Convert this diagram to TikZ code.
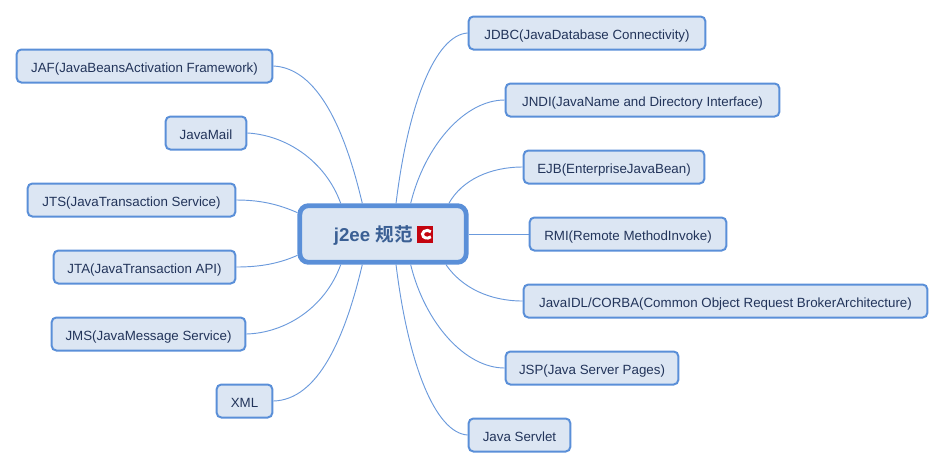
\documentclass[tikz,border=0pt]{standalone}
\usepackage{fontspec}
\setmainfont{Liberation Sans}
\newfontfamily\cjkbold[BoldFont=Noto Sans CJK SC Bold]{Noto Sans CJK SC}
\usetikzlibrary{backgrounds}
\definecolor{boxfill}{HTML}{DCE6F3}
\definecolor{boxline}{HTML}{5A8FD8}
\definecolor{leaftext}{HTML}{22345A}
\definecolor{roottext}{HTML}{3A5F94}
\definecolor{logored}{HTML}{C4040F}
\tikzset{
	leaf/.style={draw=boxline,fill=boxfill,rectangle,rounded corners=3.5pt,line width=1.5pt,minimum height=24.75pt,inner sep=0pt,text height=10pt,text depth=0.6pt,text=leaftext,font=\fontsize{10}{12}\selectfont},
	root/.style={draw=boxline,fill=boxfill,rectangle,rounded corners=6.5pt,line width=3.6pt,minimum width=124.75pt,minimum height=42.5pt,inner sep=0pt,text height=12pt,text depth=0.4pt,text=roottext,font=\fontsize{14}{16}\selectfont\bfseries},
	link/.style={draw=boxline!90,line width=0.7pt}
}
\begin{document}
\begin{tikzpicture}[x=0.75pt,y=-0.75pt]
	\useasboundingbox (0,0) rectangle (945,469);
	\node[root] (j2ee) at (383,234) {j2ee {\cjkbold 规范}\hspace*{14.5pt}};
	\node[fill=logored,minimum size=12.3pt,inner sep=0pt] (logo) at (425,234.3) {};
	\draw[white,line width=2.2pt] ([xshift=4.4pt,yshift=1.9pt]logo.center) arc (40:320:3.6pt and 2.9pt);
	% left side
	\node[leaf,minimum width=191.75pt] (jaf) at (144.5,66) {JAF(JavaBeansActivation Framework)};
	\node[leaf,minimum width=60.5pt] (mail) at (206,133) {JavaMail};
	\node[leaf,minimum width=155.75pt] (jts) at (131.5,200) {JTS(JavaTransaction Service)};
	\node[leaf,minimum width=136.25pt] (jta) at (144.5,267) {JTA(JavaTransaction API)};
	\node[leaf,minimum width=145.25pt] (jms) at (148.5,334) {JMS(JavaMessage Service)};
	\node[leaf,minimum width=41.75pt] (xml) at (244.5,401) {XML};
	% right side
	\node[leaf,minimum width=177.5pt] (jdbc) at (587,33) {JDBC(JavaDatabase Connectivity)};
	\node[leaf,minimum width=205.25pt] (jndi) at (642.5,100) {JNDI(JavaName and Directory Interface)};
	\node[leaf,minimum width=135.5pt] (ejb) at (614,167) {EJB(EnterpriseJavaBean)};
	\node[leaf,minimum width=147.5pt] (rmi) at (628,234) {RMI(Remote MethodInvoke)};
	\node[leaf,minimum width=302.75pt] (corba) at (725.5,301) {JavaIDL/CORBA(Common Object Request BrokerArchitecture)};
	\node[leaf,minimum width=129.5pt] (jsp) at (592,368) {JSP(Java Server Pages)};
	\node[leaf,minimum width=76.25pt] (servlet) at (519.5,435) {Java Servlet};
	\begin{scope}[on background layer]
		\draw[link] (jaf.east) .. controls (318,68) and (345,130) .. (j2ee.124);
		\draw[link] (mail.east) .. controls (285,135) and (325,160) .. (j2ee.144);
		\draw[link] (jts.east) .. controls (262,200) and (280,205) .. (j2ee.166);
		\draw[link] (jta.east) .. controls (262,267) and (280,263) .. (j2ee.194);
		\draw[link] (jms.east) .. controls (285,333) and (325,308) .. (j2ee.216);
		\draw[link] (xml.east) .. controls (318,400) and (345,338) .. (j2ee.236);
		\draw[link] (jdbc.west) .. controls (435,35) and (408,105) .. (j2ee.67);
		\draw[link] (jndi.west) .. controls (465,100) and (425,145) .. (j2ee.48);
		\draw[link] (ejb.west) .. controls (490,167) and (462,180) .. (j2ee.25);
		\draw[link] (rmi.west) -- (j2ee.east);
		\draw[link] (corba.west) .. controls (490,301) and (462,288) .. (j2ee.334);
		\draw[link] (jsp.west) .. controls (465,368) and (425,323) .. (j2ee.312);
		\draw[link] (servlet.west) .. controls (435,433) and (408,363) .. (j2ee.293);
	\end{scope}
\end{tikzpicture}
\end{document}
